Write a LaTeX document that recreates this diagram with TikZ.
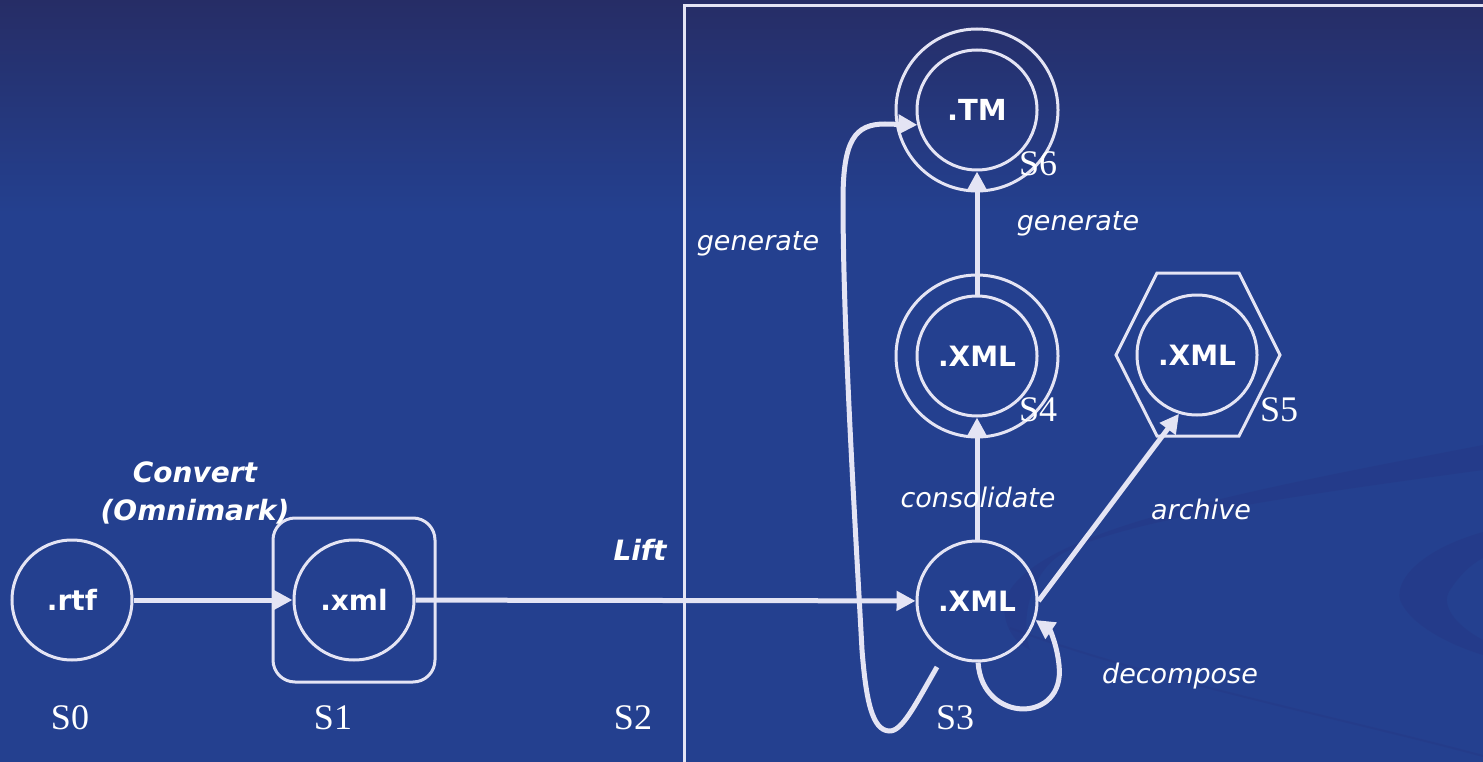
\documentclass[tikz,border=0pt]{standalone}
\usepackage{fontspec}
\setmainfont{Liberation Serif}
\newfontfamily\labfont{DejaVu Sans}
\usetikzlibrary{arrows.meta}
\definecolor{bgtop}{HTML}{262D66}
\definecolor{bgmain}{HTML}{24408F}
\definecolor{swoosh}{HTML}{243784}
\definecolor{ink}{HTML}{E4E4F4}
% the shading is stretched so that the picture spans 25bp..75bp
\pgfdeclareverticalshading{bgshade}{100bp}{color(0bp)=(bgmain); color(61bp)=(bgmain); color(75bp)=(bgtop); color(100bp)=(bgtop)}
\begin{document}
\begin{tikzpicture}[x=1pt,y=-1pt,
  state/.style={circle, draw=ink, line width=3pt, minimum size=120pt, inner sep=0pt,
    text=white, font=\labfont\bfseries\fontsize{28}{30}\selectfont},
  ring/.style={draw=ink, line width=3pt},
  flow/.style={draw=ink, line width=5pt, -{Triangle[length=19pt,width=19pt]}},
  act/.style={text=white, font=\labfont\itshape\fontsize{27}{30}\selectfont, anchor=base, inner sep=0pt},
  actb/.style={act, font=\labfont\bfseries\itshape\fontsize{28}{30}\selectfont},
  sname/.style={text=white, font=\fontsize{36}{40}\selectfont, anchor=base, inner sep=0pt},
]
% background
\useasboundingbox (0,0) rectangle (1483,762);
\shade[shading=bgshade] (0,0) rectangle (1483,762);
% faint swooshes
\fill[swoosh, opacity=0.45] (1005,600) .. controls (1030,530) and (1250,490) .. (1483,445)
  -- (1483,470) .. controls (1300,495) and (1120,520) .. (1060,555)
  .. controls (1030,575) and (1020,620) .. (1030,650) .. controls (1010,640) and (1002,620) .. (1005,600) -- cycle;
\fill[swoosh, opacity=0.45] (1483,532) .. controls (1420,550) and (1395,580) .. (1400,600)
  .. controls (1410,625) and (1450,645) .. (1483,655) -- (1483,640)
  .. controls (1455,625) and (1440,605) .. (1450,590) .. controls (1460,575) and (1470,565) .. (1483,558) -- cycle;
\draw[swoosh, opacity=0.4, line width=2pt] (1010,628) .. controls (1150,680) and (1350,720) .. (1483,756);

% frame of the second stage
\draw[draw=ink, line width=3pt] (684,764) -- (684,6) -- (1485,6);

% states
\node[state] (s0) at (72,600) {.rtf};
\node[state] (s1) at (354,600) {.xml};
\draw[ring, rounded corners=22pt] (273,518) rectangle (435,682);
\node[state] (s3) at (977,601) {.XML};
\node[state] (s4) at (977,356) {.XML};
\draw[ring] (s4.center) circle[radius=81];
\node[state, font=\labfont\bfseries\fontsize{29}{30}\selectfont] (s6) at (977,110) {.TM};
\draw[ring] (s6.center) circle[radius=81];
\node[state] (s5) at (1197,355) {.XML};
\draw[ring] (1116,355) -- (1157,273) -- (1239,273) -- (1280,355) -- (1239,436) -- (1157,436) -- cycle;

% state names
\node[sname] (n0) at (70,729) {S0};
\node[sname] (n1) at (333,729) {S1};
\node[sname] (n2) at (633,729) {S2};
\node[sname] (n3) at (955,729) {S3};
\node[sname] (n4) at (1038,421) {S4};
\node[sname] (n5) at (1279,421) {S5};
\node[sname] (n6) at (1038,176) {S6};

% transitions
\draw[flow] (s0) -- (s1);
\draw[flow] (s1) -- (s3);
\draw[flow] (s3) -- (s4);
\draw[flow] (s4) -- (s6);
\draw[flow] (s3.east) -- (s5.253);
\draw[flow] (s3.-89) .. controls (982,724) and (1066,724) .. (1059,665)
  .. controls (1057,645) and (1050,630) .. (s3.-18);
\coordinate (gstart) at (937,667);
\draw[flow] (gstart) .. controls (915,705) and (902,732) .. (889,731)
  .. controls (872,730) and (866,700) .. (862,650)
  .. controls (855,520) and (843,330) .. (843,200)
  .. controls (843,140) and (855,124) .. (885,124) -- (s6.194);

% transition labels
\node[actb] (lconv) at (195,482) {Convert};
\node[actb] (lomni) at (195,520) {(Omnimark)};
\node[actb] (llift) at (640,560) {Lift};
\node[act] (lgen1) at (758,251) {generate};
\node[act] (lgen2) at (1078,231) {generate};
\node[act] (lcons) at (978,507) {consolidate};
\node[act] (larch) at (1201,519) {archive};
\node[act] (ldec) at (1180,683) {decompose};
\end{tikzpicture}
\end{document}
